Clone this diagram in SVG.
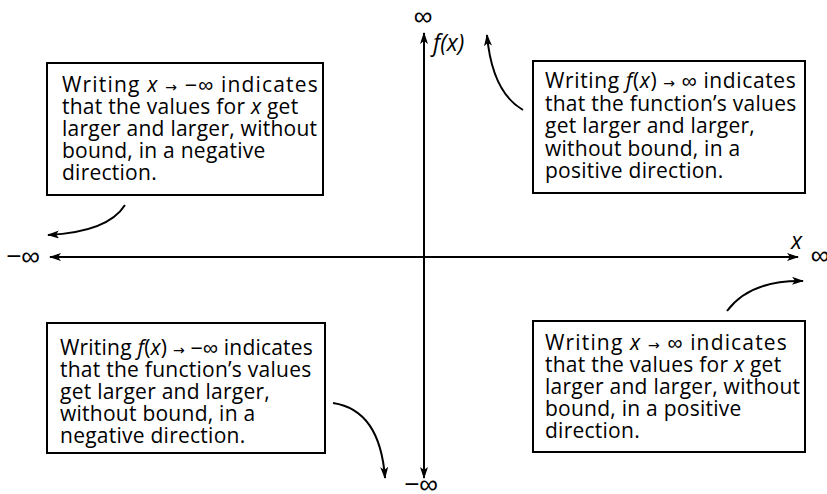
<svg xmlns="http://www.w3.org/2000/svg" width="827" height="494" viewBox="0 0 827 494">
<style>
.box{fill:#fff;stroke:#000;stroke-width:2}
.t{font-family:"Open Sans","DejaVu Sans",sans-serif;font-size:21px;letter-spacing:0.25px;fill:#000}
.i{font-style:italic}
.ar{font-family:"DejaVu Sans",sans-serif;font-size:14px}
.inf{font-family:"Liberation Sans",sans-serif;font-size:21px}
.sym{font-family:"Liberation Sans",sans-serif;font-size:26px;fill:#000}
.lab{font-family:"Open Sans","DejaVu Sans",sans-serif;font-size:23px;font-style:italic;fill:#000}
.axis{stroke:#000;stroke-width:2;fill:none}
.curve{stroke:#000;stroke-width:2;fill:none}
</style>
<defs>
<marker id="ah" viewBox="0 0 12 8" refX="11" refY="4" markerWidth="12" markerHeight="8" markerUnits="userSpaceOnUse" orient="auto">
<path d="M0,0 L12,4 L0,8 L3,4 z" fill="#000"/>
</marker>
</defs>
<rect width="827" height="494" fill="#fff"/>
<g id="connectors">
<line class="axis" x1="424" y1="257" x2="50" y2="257" marker-end="url(#ah)"/>
<line class="axis" x1="424" y1="257" x2="798" y2="257" marker-end="url(#ah)"/>
<line class="axis" x1="424" y1="257" x2="424" y2="33" marker-end="url(#ah)"/>
<line class="axis" x1="424" y1="257" x2="424" y2="478" marker-end="url(#ah)"/>
<path class="curve" d="M125,205 Q108,232 48,235" marker-end="url(#ah)"/>
<path class="curve" d="M523,110 Q492,92 487,35" marker-end="url(#ah)"/>
<path class="curve" d="M727,311 Q750,280 803,281" marker-end="url(#ah)"/>
<path class="curve" d="M333,403 Q380,410 385,478" marker-end="url(#ah)"/>
</g>
<g id="axis-labels">
<text class="sym" x="23" y="265" text-anchor="middle">−∞</text>
<text class="sym" x="820" y="264" text-anchor="middle">∞</text>
<text class="sym" x="423" y="25" text-anchor="middle">∞</text>
<text class="sym" x="421" y="493" text-anchor="middle">−∞</text>
<text class="lab" x="433" y="51">f(x)</text>
<text class="lab" x="791" y="249">x</text>
</g>
<g id="box-top-left">
<rect class="box" x="47" y="63" width="276" height="132"/>
<text class="t" x="62" y="92" textLength="256">Writing <tspan class="i">x</tspan> <tspan class="ar">→</tspan> <tspan class="inf">−∞</tspan> indicates</text>
<text class="t" x="62" y="114">that the values for <tspan class="i">x</tspan> get</text>
<text class="t" x="62" y="136">larger and larger, without</text>
<text class="t" x="62" y="158">bound, in a negative</text>
<text class="t" x="62" y="180">direction.</text>
</g>
<g id="box-top-right">
<rect class="box" x="533" y="61" width="272" height="132"/>
<text class="t" x="545" y="88" textLength="251">Writing <tspan class="i">f</tspan>(<tspan class="i">x</tspan>) <tspan class="ar">→</tspan> <tspan class="inf">∞</tspan> indicates</text>
<text class="t" x="545" y="110.5">that the function’s values</text>
<text class="t" x="545" y="133">get larger and larger,</text>
<text class="t" x="545" y="155.5">without bound, in a</text>
<text class="t" x="545" y="178">positive direction.</text>
</g>
<g id="box-bottom-left">
<rect class="box" x="47" y="323" width="278" height="130"/>
<text class="t" x="60" y="355" textLength="253">Writing <tspan class="i">f</tspan>(<tspan class="i">x</tspan>) <tspan class="ar">→</tspan> <tspan class="inf">−∞</tspan> indicates</text>
<text class="t" x="60" y="377">that the function’s values</text>
<text class="t" x="60" y="399">get larger and larger,</text>
<text class="t" x="60" y="421">without bound, in a</text>
<text class="t" x="60" y="443">negative direction.</text>
</g>
<g id="box-bottom-right">
<rect class="box" x="533" y="321" width="272" height="131"/>
<text class="t" x="545" y="350" textLength="242">Writing <tspan class="i">x</tspan> <tspan class="ar">→</tspan> <tspan class="inf">∞</tspan> indicates</text>
<text class="t" x="545" y="372">that the values for <tspan class="i">x</tspan> get</text>
<text class="t" x="545" y="394">larger and larger, without</text>
<text class="t" x="545" y="416">bound, in a positive</text>
<text class="t" x="545" y="438">direction.</text>
</g>
</svg>
